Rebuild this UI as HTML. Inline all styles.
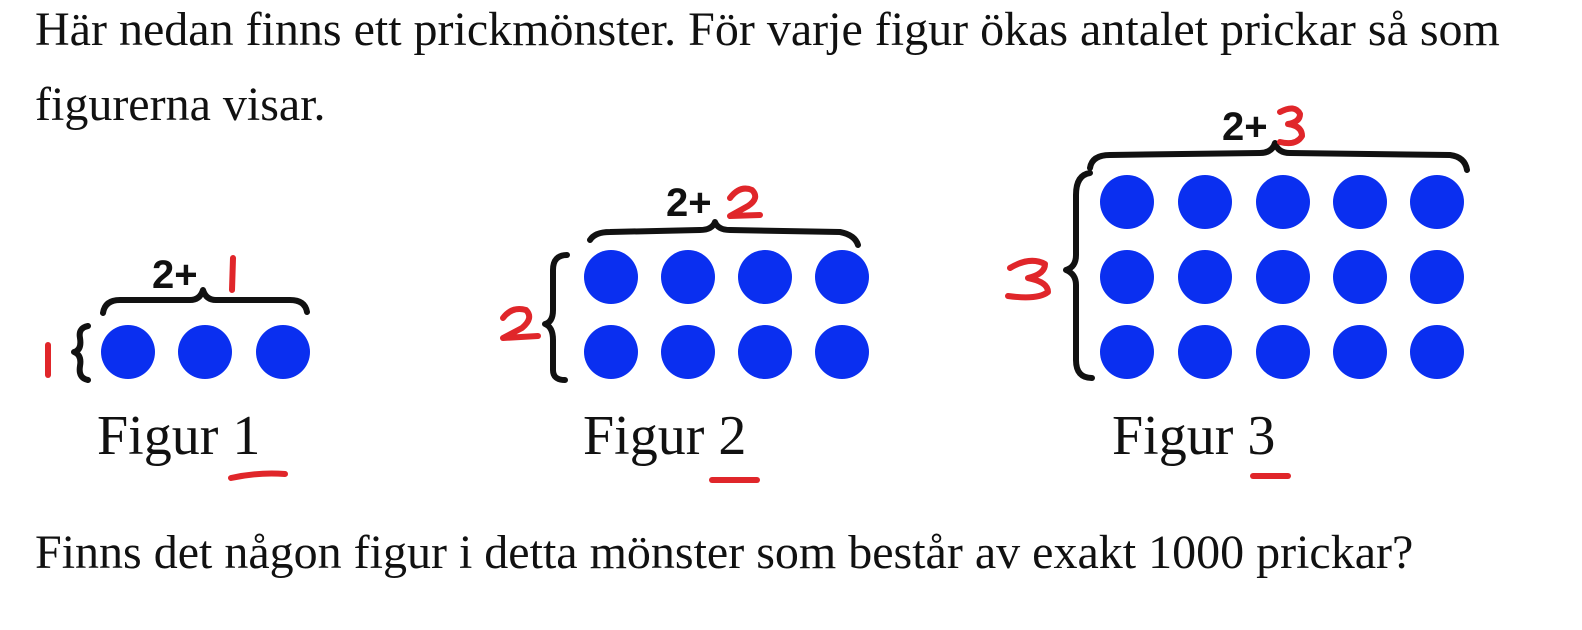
<!DOCTYPE html>
<html><head><meta charset="utf-8"><style>
html,body{margin:0;padding:0;background:#fff;width:1582px;height:630px;overflow:hidden}
.t{position:absolute;font-family:"Liberation Serif",serif;color:#111;white-space:nowrap;line-height:1.15}
svg{position:absolute;left:0;top:0}
</style></head><body>
<div class="t" style="left:35px;top:2px;font-size:48px">Här nedan finns ett prickmönster. För varje figur ökas antalet prickar så som</div>
<div class="t" style="left:35px;top:77px;font-size:48px">figurerna visar.</div>
<div class="t" style="left:97px;top:404px;font-size:56px">Figur 1</div>
<div class="t" style="left:583px;top:404px;font-size:56px">Figur 2</div>
<div class="t" style="left:1112px;top:404px;font-size:56px">Figur 3</div>
<div class="t" style="left:35px;top:525px;font-size:48px">Finns det någon figur i detta mönster som består av exakt 1000 prickar?</div>
<svg width="1582" height="630" viewBox="0 0 1582 630">
<g fill="#0a2ff0">
<circle cx="128" cy="352" r="27"/><circle cx="205" cy="352" r="27"/><circle cx="283" cy="352" r="27"/>
<circle cx="611" cy="277" r="27"/><circle cx="688" cy="277" r="27"/><circle cx="765" cy="277" r="27"/><circle cx="842" cy="277" r="27"/>
<circle cx="611" cy="352" r="27"/><circle cx="688" cy="352" r="27"/><circle cx="765" cy="352" r="27"/><circle cx="842" cy="352" r="27"/>
<circle cx="1127" cy="202" r="27"/><circle cx="1205" cy="202" r="27"/><circle cx="1283" cy="202" r="27"/><circle cx="1360" cy="202" r="27"/><circle cx="1437" cy="202" r="27"/>
<circle cx="1127" cy="277" r="27"/><circle cx="1205" cy="277" r="27"/><circle cx="1283" cy="277" r="27"/><circle cx="1360" cy="277" r="27"/><circle cx="1437" cy="277" r="27"/>
<circle cx="1127" cy="352" r="27"/><circle cx="1205" cy="352" r="27"/><circle cx="1283" cy="352" r="27"/><circle cx="1360" cy="352" r="27"/><circle cx="1437" cy="352" r="27"/>
</g>
<g fill="none" stroke="#111" stroke-width="6" stroke-linecap="round" stroke-linejoin="round">
<path d="M103 313 Q105 300 120 300 L190 300 Q200 300 203 290 Q206 300 216 300 L290 300 Q305 300 307 312"/>
<path d="M88 326 Q78 328 80 338 Q82 350 74 352 Q82 355 80 366 Q78 378 88 380"/>
<path d="M590 240 Q595 232 610 232 L700 230 Q712 230 715 222 Q718 230 730 230 L840 232 Q855 235 858 245"/>
<path d="M567 255 Q553 255 553 270 L553 310 Q553 322 545 324 Q553 327 553 340 L553 370 Q553 380 565 380"/>
<path d="M1090 168 Q1092 155 1110 155 L1260 153 Q1272 153 1275 143 Q1278 153 1290 153 L1450 155 Q1465 157 1467 170"/>
<path d="M1090 173 Q1076 175 1076 195 L1076 255 Q1076 267 1066 270 Q1076 274 1076 285 L1076 360 Q1076 378 1092 378"/>
</g>
<g font-family="Liberation Sans,sans-serif" font-weight="bold">
<text x="152" y="288" font-size="40" fill="#111">2+</text>
<text x="666" y="216" font-size="40" fill="#111">2+</text>
<text x="1222" y="140" font-size="40" fill="#111">2+</text>
</g>
<g fill="none" stroke="#e0262a" stroke-width="6" stroke-linecap="round" stroke-linejoin="round">
<path d="M233 258 L232 290"/>
<path d="M48 345 L48 375"/>
<path d="M231 478 Q258 472 285 474"/>
<path d="M712 480 L757 480"/>
<path d="M1253 476 L1288 476"/>
<path d="M730 198 Q740 185 752 190 Q760 198 748 206 L730 216 L760 215"/>
<path d="M1280 112 Q1295 104 1300 114 Q1300 122 1288 124 Q1302 126 1302 136 Q1296 146 1280 142"/>
<path d="M503 318 Q512 306 526 310 Q534 318 522 328 L503 338 L538 336"/>
<path d="M1010 268 Q1030 256 1045 264 Q1045 274 1028 278 Q1048 282 1048 292 Q1038 300 1008 296"/>
</g>
</svg>
</body></html>
